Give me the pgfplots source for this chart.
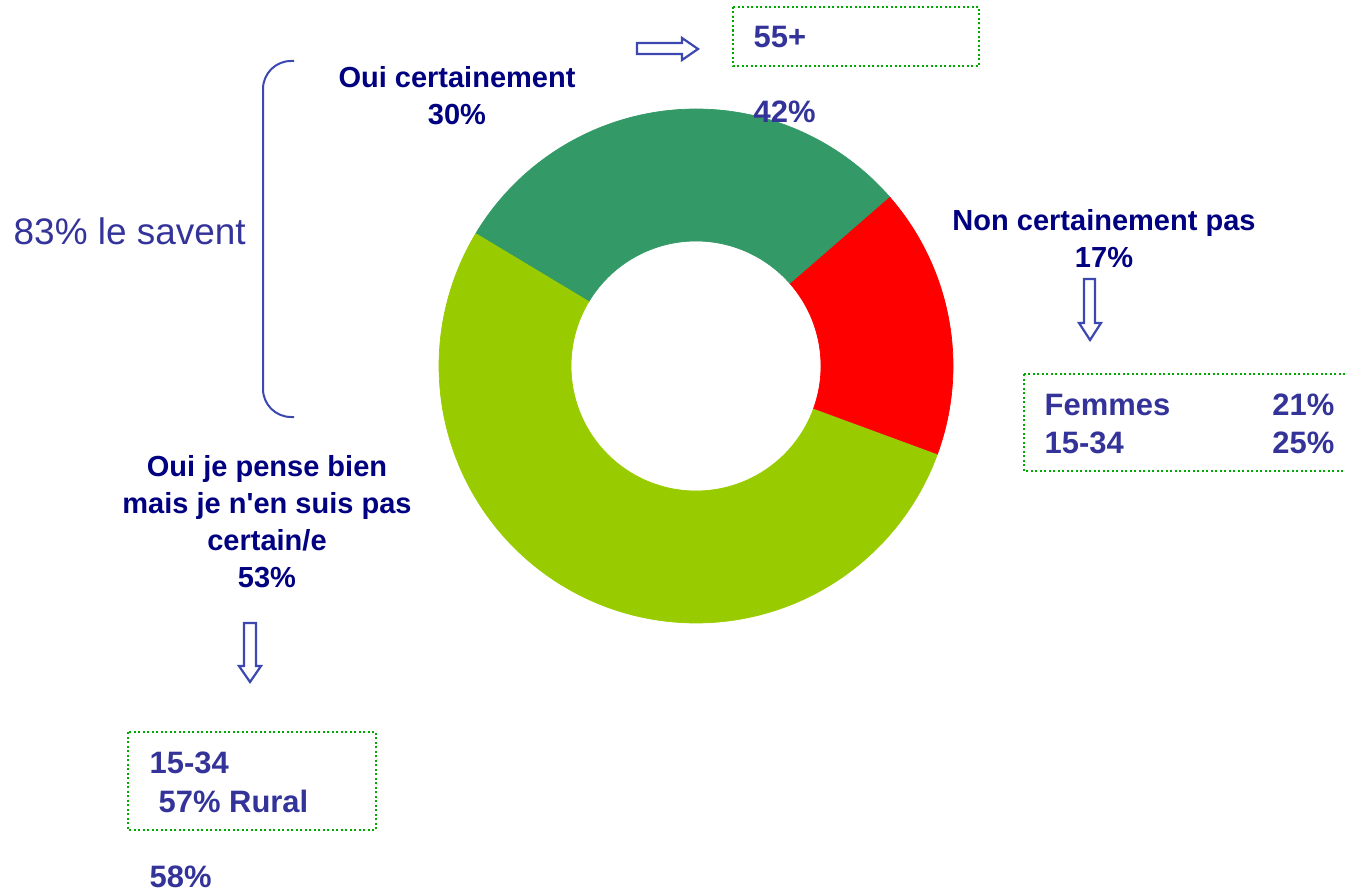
\documentclass[border=0pt]{standalone}
\usepackage{fontspec}
\setmainfont{Liberation Sans}
\usepackage{pgfplots}
\usepackage{pgfplotstable}
\pgfplotsset{compat=1.18}

\definecolor{vertFonce}{RGB}{51,153,102}
\definecolor{vertClair}{RGB}{153,204,0}
\definecolor{rougeNon}{RGB}{255,0,0}
\definecolor{marine}{RGB}{0,0,128}
\definecolor{indigo}{RGB}{51,51,153}
\definecolor{trait}{RGB}{60,72,176}
\definecolor{pointille}{RGB}{0,170,0}

% parts of the ring, in %, clockwise from 149 deg
\pgfplotstableread{
part value
1 30
2 17
3 53
}\reponses

% ring slice: start angle, end angle, colour (centre 696,366 ; radii 257 / 125)
% t in [0,1]: outer arc #1 -> #2 ; t in [1.005,2]: inner arc #2 -> #1
\newcommand\tranche[3]{%
  \addplot[fill=#3, draw=#3, line width=0.2pt, domain=0:2, samples=401, variable=\t]
    ({696+ifthenelse(\t<1.002,257,125)*cos(ifthenelse(\t<1.002,#1+(#2-#1)*\t,#2+(#1-#2)*(\t-1.005)/0.995))},
     {366-ifthenelse(\t<1.002,257,125)*sin(ifthenelse(\t<1.002,#1+(#2-#1)*\t,#2+(#1-#2)*(\t-1.005)/0.995))}) -- cycle;
}

\tikzset{
  lab/.style={font=\bfseries\fontsize{8.25}{10}\selectfont, text=marine, inner sep=0pt, anchor=base},
  boite/.style={font=\bfseries\fontsize{8.8}{10}\selectfont, text=indigo, inner sep=0pt, anchor=base west},
  fleche/.style={draw=trait, line width=0.022cm, line join=miter},
  cadre/.style={draw=pointille, line width=0.02cm, dash pattern=on 0.02cm off 0.025cm}
}

\begin{document}
\begin{tikzpicture}
\pgfplotstablegetelem{0}{value}\of\reponses \pgfmathsetmacro\aA{149-3.6*\pgfplotsretval}
\pgfplotstablegetelem{1}{value}\of\reponses \pgfmathsetmacro\aB{\aA-3.6*\pgfplotsretval}
\pgfplotstablegetelem{2}{value}\of\reponses \pgfmathsetmacro\aC{\aB-3.6*\pgfplotsretval}
\begin{axis}[
  x=0.01cm, y=0.01cm, scale only axis,
  xmin=0, xmax=1345, ymin=0, ymax=889, y dir=reverse,
  hide axis
]
  \path (0,0) rectangle (1345,889);
  \tranche{149}{\aA}{vertFonce}
  \tranche{\aA}{\aB}{rougeNon}
  \tranche{\aB}{\aC}{vertClair}

  % slice labels
  \node[lab] at (457,88) {Oui certainement};
  \node[lab] at (457,125) {30\%};
  \node[lab] at (1104,231) {Non certainement pas};
  \node[lab] at (1104,268) {17\%};
  \node[lab] at (267,476) {Oui je pense bien};
  \node[lab] at (267,513) {mais je n\textquotesingle en suis pas};
  \node[lab] at (267,550) {certain/e};
  \node[lab] at (267,587) {53\%};

  % bracket
  \draw[trait, line width=0.02cm, rounded corners=0.28cm] (294,61) -- (263,61) -- (263,417) -- (294,417);
  \node[font=\fontsize{10.5}{12}\selectfont, text=indigo, inner sep=0pt, anchor=base west] at (13,245) {83\% le savent};

  % arrows
  \draw[fleche] (637,43) -- (682,43) -- (682,38) -- (698,49) -- (682,60) -- (682,54) -- (637,54) -- cycle;
  \draw[fleche] (1084,279) -- (1095,279) -- (1095,323) -- (1101,323) -- (1090,340) -- (1079,323) -- (1084,323) -- cycle;
  \draw[fleche] (244,623) -- (256,623) -- (256,666) -- (261,666) -- (250,682) -- (239,666) -- (244,666) -- cycle;

  % boxes
  \draw[cadre] (733,7) rectangle (979,66);
  \node[boite] at (753,48) {55+};
  \node[boite] at (753,123) {42\%};

  \draw[cadre] (1024,374) rectangle (1360,471);
  \node[boite] at (1044,415) {Femmes};
  \node[boite, anchor=base east] at (1335,415) {21\%};
  \node[boite] at (1044,453) {15-34};
  \node[boite, anchor=base east] at (1335,453) {25\%};

  \draw[cadre] (128,732) rectangle (376,830);
  \node[boite] at (149,773) {15-34};
  \node[boite] at (158,812) {57\% Rural};
  \node[boite] at (149,887) {58\%};
\end{axis}
\end{tikzpicture}
\end{document}
